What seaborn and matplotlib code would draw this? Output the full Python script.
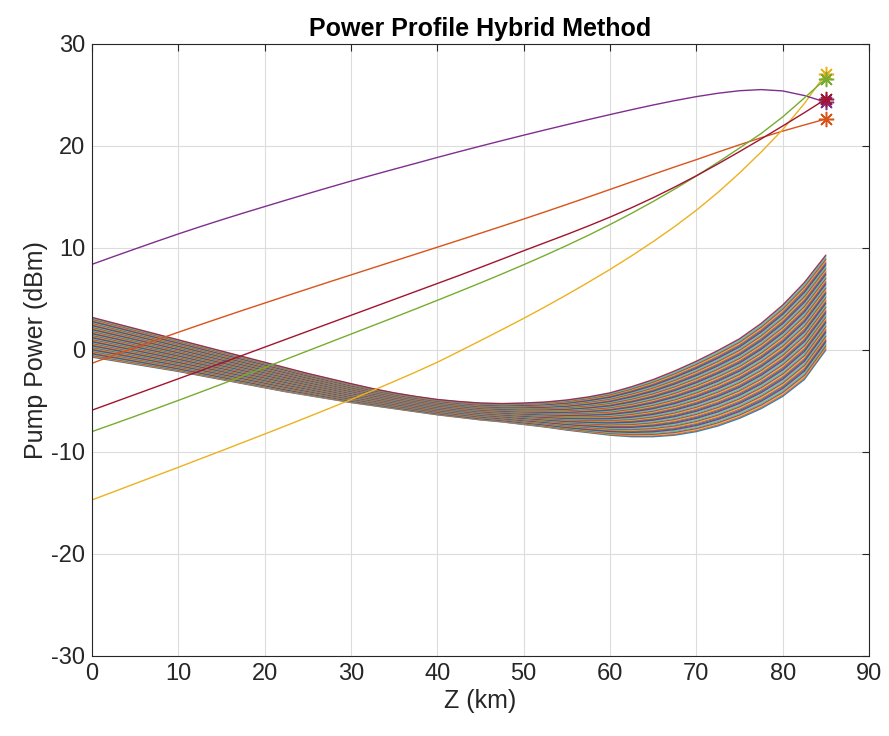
import numpy as np
import pandas as pd
import matplotlib
matplotlib.use("Agg")
import matplotlib.pyplot as plt
import seaborn as sns

# ---------------- data ----------------
z_km = [0, 2.5, 5, 7.5, 10, 12.5, 15, 17.5, 20, 22.5, 25, 27.5, 30, 32.5, 35, 37.5,
        40, 42.5, 45, 47.5, 50, 52.5, 55, 57.5, 60, 62.5, 65, 67.5, 70, 72.5, 75,
        77.5, 80, 82.5, 85]

pump_purple = [8.4, 9.16, 9.91, 10.65, 11.38, 12.08, 12.76, 13.42, 14.06, 14.7, 15.33,
               15.95, 16.56, 17.15, 17.73, 18.3, 18.88, 19.44, 19.99, 20.53, 21.06, 21.58,
               22.09, 22.59, 23.08, 23.56, 24.02, 24.45, 24.84, 25.17, 25.42, 25.53, 25.4,
               24.95, 24.3]
pump_orange = [-1.3, -0.52, 0.25, 1.0, 1.74, 2.47, 3.19, 3.9, 4.6, 5.3, 5.99, 6.68, 7.36,
               8.04, 8.72, 9.4, 10.08, 10.76, 11.45, 12.14, 12.84, 13.55, 14.27, 15.0,
               15.74, 16.48, 17.22, 17.95, 18.66, 19.4, 20.12, 20.81, 21.46, 22.06, 22.65]
pump_maroon = [-5.9, -5.13, -4.36, -3.59, -2.82, -2.05, -1.28, -0.5, 0.28, 1.06, 1.84,
               2.62, 3.4, 4.18, 4.96, 5.74, 6.52, 7.3, 8.1, 8.91, 9.73, 10.53, 11.33,
               12.16, 13.03, 13.95, 14.93, 15.98, 17.08, 18.24, 19.45, 20.69, 21.96,
               23.26, 24.6]
pump_green = [-8.0, -7.25, -6.49, -5.72, -4.94, -4.15, -3.35, -2.54, -1.72, -0.9, -0.08,
              0.74, 1.56, 2.38, 3.2, 4.03, 4.87, 5.72, 6.58, 7.46, 8.36, 9.29, 10.25,
              11.25, 12.3, 13.4, 14.56, 15.78, 17.06, 18.4, 19.8, 21.22, 22.85, 24.7, 26.6]
pump_yellow = [-14.7, -13.9, -13.1, -12.3, -11.5, -10.69, -9.88, -9.06, -8.24, -7.41,
               -6.57, -5.72, -4.86, -3.98, -3.08, -2.16, -1.2, -0.15, 0.92, 2.0, 3.1,
               4.24, 5.42, 6.64, 7.9, 9.23, 10.63, 12.11, 13.7, 15.45, 17.35, 19.4, 21.6,
               24.15, 27.1]

# signal band: upper and lower envelopes of the channel bundle
signal_top = [3.2, 2.65, 2.1, 1.55, 1.0, 0.45, -0.1, -0.65, -1.2, -1.75, -2.3, -2.8, -3.3,
              -3.78, -4.2, -4.55, -4.85, -5.05, -5.2, -5.25, -5.2, -5.1, -4.9, -4.6, -4.2,
              -3.6, -2.9, -2.05, -1.1, -0.05, 1.1, 2.6, 4.4, 6.6, 9.3]
signal_bottom = [-0.7, -1.05, -1.4, -1.75, -2.1, -2.5, -2.9, -3.3, -3.7, -4.1, -4.45, -4.8,
                 -5.15, -5.45, -5.75, -6.05, -6.35, -6.6, -6.85, -7.05, -7.3, -7.55, -7.85,
                 -8.1, -8.35, -8.5, -8.5, -8.35, -8.0, -7.45, -6.7, -5.75, -4.55, -2.9, 0.0]
n_channels = 70

x_ticks = [0, 10, 20, 30, 40, 50, 60, 70, 80, 90]
y_ticks = [-30, -20, -10, 0, 10, 20, 30]

matlab_colors = ["#0072BD", "#D95319", "#EDB120", "#7E2F8E", "#77AC30", "#4DBEEE", "#A2142F"]

# ---------------- style ----------------
sns.set_theme(style="whitegrid")
plt.rcParams["font.family"] = ["Liberation Sans", "DejaVu Sans"]
plt.rcParams["axes.unicode_minus"] = False

fig = plt.figure(figsize=(8.89, 7.36), dpi=100)
ax = fig.add_axes([92 / 889, 1 - 656 / 736, (869 - 92) / 889, (656 - 44) / 736])
ax.set_facecolor("white")

# signals
top = np.array(signal_top)
bot = np.array(signal_bottom)
rows = []
for k, f in enumerate(np.linspace(0, 1, n_channels)):
    vals = bot + f * (top - bot)
    for zz, v in zip(z_km, vals):
        rows.append((k, zz, v))
df_sig = pd.DataFrame(rows, columns=["channel", "z", "power"])
pal = [matlab_colors[k % 7] for k in range(n_channels)]
sns.lineplot(data=df_sig, x="z", y="power", hue="channel", palette=pal,
             estimator=None, sort=False, legend=False, linewidth=1.0, alpha=0.85, ax=ax)

# pumps
pumps = [("orange", pump_orange, "#D95319"), ("yellow", pump_yellow, "#EDB120"),
         ("purple", pump_purple, "#7E2F8E"), ("green", pump_green, "#77AC30"),
         ("maroon", pump_maroon, "#A2142F")]
for name, vals, col in pumps:
    dfp = pd.DataFrame({"z": z_km, "power": vals})
    sns.lineplot(data=dfp, x="z", y="power", color=col, linewidth=1.0,
                 estimator=None, sort=False, ax=ax)
    ax.plot([z_km[-1]], [vals[-1]], marker=(8, 2, 0), markersize=11,
            markeredgewidth=1.1, color=col, linestyle="none")

ax.set_xlim(0, 90)
ax.set_ylim(-30, 30)
ax.set_xticks(x_ticks)
ax.set_yticks(y_ticks)
ax.grid(True, color="#dcdcdc", linewidth=0.8)
for s in ax.spines.values():
    s.set_color("#262626")
    s.set_linewidth(0.8)
    s.set_visible(True)
ax.tick_params(direction="in", length=5, width=0.8, colors="#262626",
               top=True, right=True, labelsize=17, pad=5)
ax.set_xlabel("Z (km)", fontsize=18, color="#262626", labelpad=3)
ax.set_ylabel("Pump Power (dBm)", fontsize=18, color="#262626", labelpad=2)
ax.set_title("Power Profile Hybrid Method", fontsize=18, fontweight="bold",
             color="black", pad=6)

fig.savefig("out.png", dpi=100)
